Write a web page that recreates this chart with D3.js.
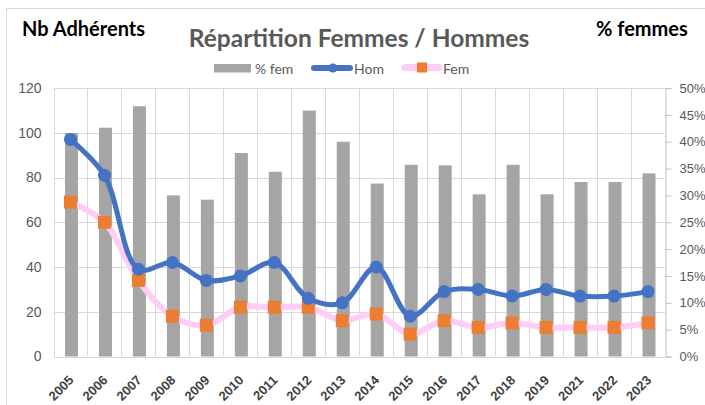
<!DOCTYPE html>
<html>
<head>
<meta charset="utf-8">
<script src="https://cdn.jsdelivr.net/npm/d3@7"></script>
<style>
  body { margin: 0; background: #fff; }
  svg { font-family: Lato, 'Open Sans', sans-serif; }
</style>
</head>
<body>
<div id="chart"></div>
<script>
// values
const years = ['2005', '2006', '2007', '2008', '2009', '2010', '2011', '2012', '2013',
  '2014', '2015', '2016', '2017', '2018', '2019', '2021', '2022', '2023']
const hom = [97, 81, 39, 42, 34, 36, 42, 26, 24, 40, 18, 29, 30, 27, 30, 27, 27, 29]
const fem = [69, 60, 34, 18, 14, 22, 22, 22, 16, 19, 10, 16, 13, 15, 13, 13, 13, 15]
const pctFem = [41.6, 42.6, 46.6, 30.0, 29.2, 37.9, 34.4, 45.8, 40.0, 32.2, 35.7, 35.6,
  30.2, 35.7, 30.2, 32.5, 32.5, 34.1]
const leftTicks = [0, 20, 40, 60, 80, 100, 120]
const rightTicks = [0, 5, 10, 15, 20, 25, 30, 35, 40, 45, 50]

const width = 705
const height = 405
const plot = { left: 53.5, right: 665, top: 88, bottom: 356.5 }

const svg = d3.select('#chart').append('svg')
    .attr('width', width)
    .attr('height', height)

// chart frame
svg.append('rect')
    .attr('x', 6.5).attr('y', 8.5)
    .attr('width', 730).attr('height', 430)
    .attr('fill', 'none')
    .attr('stroke', '#d9d9d9')

const x = d3.scaleBand()
    .domain(years)
    .range([plot.left, plot.right])

const yLeft = d3.scaleLinear()
    .domain([0, 120])
    .range([plot.bottom, plot.top])

const yRight = d3.scaleLinear()
    .domain([0, 50])
    .range([plot.bottom, plot.top])

const gridColor = '#d9d9d9'
const labelColor = '#595959'

// horizontal grid
svg.append('g')
  .selectAll('line')
    .data(leftTicks.slice(1))
  .enter().append('line')
    .attr('x1', plot.left).attr('x2', plot.right)
    .attr('y1', d => Math.round(yLeft(d)) + 0.5)
    .attr('y2', d => Math.round(yLeft(d)) + 0.5)
    .attr('stroke', gridColor)

// vertical grid at category boundaries
svg.append('g')
  .selectAll('line')
    .data(years)
  .enter().append('line')
    .attr('x1', d => Math.round(x(d)) + 0.5)
    .attr('x2', d => Math.round(x(d)) + 0.5)
    .attr('y1', plot.top).attr('y2', plot.bottom)
    .attr('stroke', gridColor)

// left axis
const leftAxis = svg.append('g')
    .attr('transform', `translate(${plot.left},0)`)
    .call(d3.axisLeft(yLeft).tickValues(leftTicks).tickSize(0).tickPadding(12))
leftAxis.select('.domain').remove()
leftAxis.selectAll('text')
    .attr('fill', labelColor)
    .style('font-size', '14px')

// right axis
const rightAxis = svg.append('g')
    .attr('transform', `translate(${plot.right + 0.5},0)`)
    .call(d3.axisRight(yRight).tickValues(rightTicks).tickSize(6).tickPadding(8)
      .tickFormat(d => d + '%'))
rightAxis.select('.domain').attr('stroke', '#bfbfbf')
rightAxis.selectAll('line').attr('stroke', '#bfbfbf')
rightAxis.selectAll('text')
    .attr('fill', labelColor)
    .style('font-size', '13px')

// bottom axis
const bottomAxis = svg.append('g')
    .attr('transform', `translate(0,${plot.bottom + 0.5})`)
    .call(d3.axisBottom(x).tickSize(0))
bottomAxis.select('.domain').attr('stroke', gridColor)
bottomAxis.selectAll('text')
    .attr('fill', '#404040')
    .style('font-size', '13px')
    .style('font-weight', 'bold')
    .attr('text-anchor', 'end')
    .attr('x', 0).attr('y', 0).attr('dy', 0)
    .attr('transform', 'translate(4,24) rotate(-45)')

// bars: % femmes on the right axis
const barWidth = 13
svg.append('g')
  .selectAll('rect')
    .data(years)
  .enter().append('rect')
    .attr('x', d => x(d) + x.bandwidth() / 2 - barWidth / 2 + 1)
    .attr('y', (d, i) => yRight(pctFem[i]))
    .attr('width', barWidth)
    .attr('height', (d, i) => plot.bottom - yRight(pctFem[i]))
    .attr('fill', '#a5a5a5')

const cx = d => x(d) + x.bandwidth() / 2

const line = values => d3.line()
    .x(d => cx(d))
    .y((d, i) => yLeft(values[i]))
    .curve(d3.curveCatmullRom.alpha(0.5))

// Fem line
svg.append('path')
    .datum(years)
    .attr('d', line(fem))
    .attr('fill', 'none')
    .attr('stroke', '#ffccf7')
    .attr('stroke-width', 6)

svg.append('g')
  .selectAll('rect')
    .data(years)
  .enter().append('rect')
    .attr('x', d => cx(d) - 6.5)
    .attr('y', (d, i) => yLeft(fem[i]) - 6.5)
    .attr('width', 13).attr('height', 13)
    .attr('fill', '#ed7d31')

// Hom line
svg.append('path')
    .datum(years)
    .attr('d', line(hom))
    .attr('fill', 'none')
    .attr('stroke', '#4472c4')
    .attr('stroke-width', 5)

svg.append('g')
  .selectAll('circle')
    .data(years)
  .enter().append('circle')
    .attr('cx', cx)
    .attr('cy', (d, i) => yLeft(hom[i]))
    .attr('r', 6.5)
    .attr('fill', '#4472c4')

// titles
svg.append('text')
    .attr('x', 359).attr('y', 47)
    .attr('text-anchor', 'middle')
    .attr('fill', labelColor)
    .style('font-size', '24.5px')
    .style('font-weight', 'bold')
    .text('Répartition Femmes / Hommes')

svg.append('text')
    .attr('x', 22).attr('y', 36)
    .attr('fill', '#000')
    .style('font-size', '20px')
    .style('font-weight', 'bold')
    .text('Nb Adhérents')

svg.append('text')
    .attr('x', 596).attr('y', 36)
    .attr('fill', '#000')
    .style('font-size', '20px')
    .style('font-weight', 'bold')
    .text('% femmes')

// legend
const legend = svg.append('g').style('font-size', '14px').attr('fill', labelColor)
legend.append('rect')
    .attr('x', 214).attr('y', 64).attr('width', 37).attr('height', 8.5)
    .attr('fill', '#a5a5a5')
legend.append('text').attr('x', 255).attr('y', 73.5).text('% fem')

legend.append('line')
    .attr('x1', 314).attr('x2', 350).attr('y1', 68).attr('y2', 68)
    .attr('stroke', '#4472c4').attr('stroke-width', 6).attr('stroke-linecap', 'round')
legend.append('circle').attr('cx', 333).attr('cy', 68).attr('r', 4.5).attr('fill', '#4472c4')
legend.append('text').attr('x', 354).attr('y', 73.5).text('Hom')

legend.append('line')
    .attr('x1', 405).attr('x2', 439).attr('y1', 67.5).attr('y2', 67.5)
    .attr('stroke', '#ffccf7').attr('stroke-width', 7).attr('stroke-linecap', 'round')
legend.append('rect').attr('x', 417).attr('y', 62.5).attr('width', 10).attr('height', 10)
    .attr('fill', '#ed7d31')
legend.append('text').attr('x', 443).attr('y', 73.5).text('Fem')
</script>
</body>
</html>
